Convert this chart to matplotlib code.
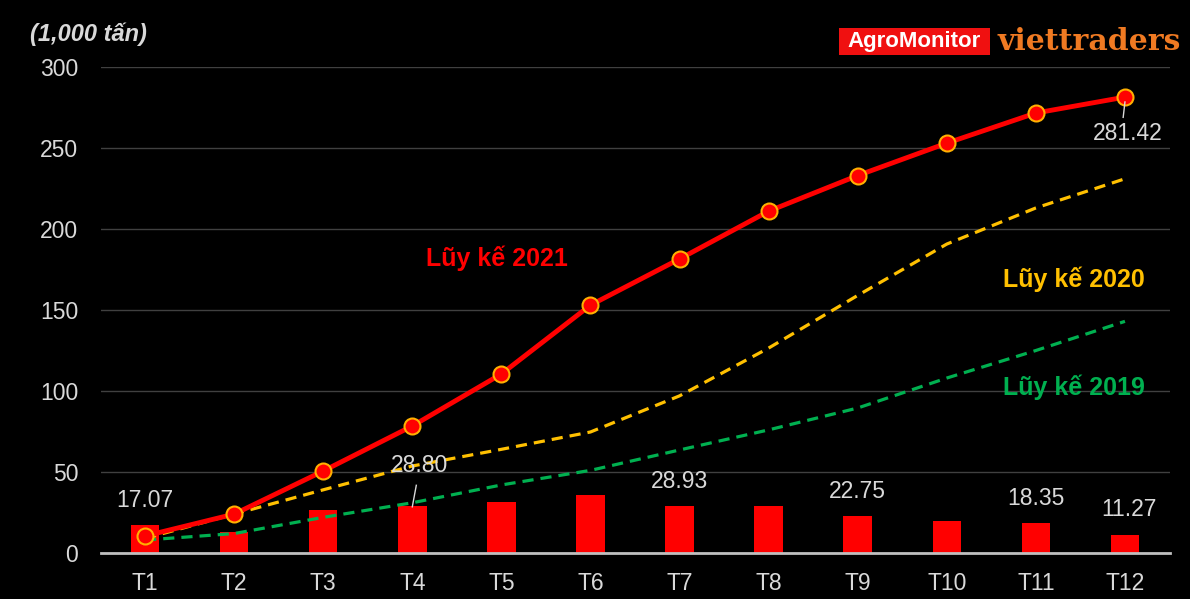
import matplotlib
matplotlib.use("Agg")
import matplotlib.pyplot as plt
from matplotlib.patches import FancyBboxPatch

months = ["T1", "T2", "T3", "T4", "T5", "T6", "T7", "T8", "T9", "T10", "T11", "T12"]
monthly_2021 = [17.07, 13.0, 26.5, 28.80, 31.5, 35.5, 28.93, 29.0, 22.75, 19.5, 18.35, 11.27]
cum_2021 = [10.5, 24.0, 50.6, 78.4, 110.5, 153.0, 181.5, 211.0, 233.0, 253.0, 271.6, 281.42]
cum_2020 = [9.0, 24.0, 39.0, 53.7, 64.0, 74.7, 97.0, 126.5, 159.0, 190.7, 213.0, 231.0]
cum_2019 = [8.0, 12.0, 22.0, 31.0, 42.0, 51.0, 63.6, 76.0, 89.5, 108.0, 125.0, 143.0]
bar_labels = {0: "17.07", 3: "28.80", 6: "28.93", 8: "22.75", 10: "18.35", 11: "11.27"}
yticks = [0, 50, 100, 150, 200, 250, 300]

plt.rcParams['font.family'] = ['Liberation Sans', 'DejaVu Sans']
TXT = "#D9D9D9"
FS = 16.5

fig = plt.figure(figsize=(11.9, 5.99), dpi=100, facecolor="black")
ax = fig.add_axes([100.5/1190, 1-553/599, 1069/1190, (553-67)/599])
ax.set_facecolor("black")
x = list(range(len(months)))

ax.bar(x, monthly_2021, width=0.32, color="#FF0000", zorder=2)
ax.plot(x, cum_2019, color="#00B050", lw=2.3, ls=(0, (3.5, 2.2)), zorder=3)
ax.plot(x, cum_2020, color="#FFC000", lw=2.3, ls=(0, (3.5, 2.2)), zorder=3)
ax.plot(x, cum_2021, color="#FF0000", lw=3.5, zorder=4,
        marker="o", markersize=11.5, markerfacecolor="#FF0000",
        markeredgecolor="#FFB000", markeredgewidth=1.5)

ax.set_xlim(-0.5, len(months) - 0.5)
ax.set_ylim(0, 300)
ax.set_yticks(yticks)
ax.set_xticks(x)
ax.set_xticklabels(months)
ax.tick_params(colors=TXT, labelsize=FS, length=0)
ax.tick_params(axis="y", pad=16)
ax.tick_params(axis="x", pad=14)
for s in ["top", "right", "left"]:
    ax.spines[s].set_visible(False)
ax.spines["bottom"].set_color("#BFBFBF")
ax.spines["bottom"].set_linewidth(2)
ax.grid(axis="y", color="#404040", lw=1)
ax.set_axisbelow(True)

# Bar value labels
for i, lab in bar_labels.items():
    xx = i
    yy = monthly_2021[i] + 15.5
    if i == 3:
        xx, yy = i + 0.08, monthly_2021[i] + 25
    if i == 11:
        xx = i + 0.05
    ax.text(xx, yy, lab, color=TXT, fontsize=FS, ha="center", va="center", zorder=5)
# leader line for T4
ax.plot([3.0, 3.045], [monthly_2021[3] - 0.3, monthly_2021[3] + 13], color=TXT, lw=1, zorder=5)

# End label 2021
ax.text(11.03, cum_2021[-1] - 22.5, "281.42", color=TXT, fontsize=FS,
        ha="center", va="center", zorder=5)
ax.plot([11.0, 10.98], [cum_2021[-1] - 3, cum_2021[-1] - 12.5], color=TXT, lw=1, zorder=5)

# Series labels
ax.text(3.95, 182, "Lũy kế 2021", color="#FF0000", fontsize=18, fontweight="bold",
        ha="center", va="center")
ax.text(10.43, 169, "Lũy kế 2020", color="#FFC000", fontsize=18, fontweight="bold",
        ha="center", va="center")
ax.text(10.43, 102, "Lũy kế 2019", color="#00B050", fontsize=18, fontweight="bold",
        ha="center", va="center")

# Unit title
fig.text(30/1190, 1-34/599, "(1,000 tấn)", color=TXT, fontsize=17,
         fontweight="bold", fontstyle="italic", ha="left", va="center")

# Logo
fig.patches.append(FancyBboxPatch((839/1190, 1-55/599), 151/1190, 27/599,
                                  boxstyle="square,pad=0", transform=fig.transFigure,
                                  facecolor="#F01010", edgecolor="none"))
fig.text(914/1190, 1-41/599, "AgroMonitor", color="white", fontsize=16,
         fontweight="bold", ha="center", va="center")
fig.text(1089/1190, 1-42/599, "viettraders", color="#F07A22", fontsize=21.5,
         fontweight="bold", family=["DejaVu Serif"], ha="center", va="center")

fig.savefig("out.png", dpi=100, facecolor="black")
